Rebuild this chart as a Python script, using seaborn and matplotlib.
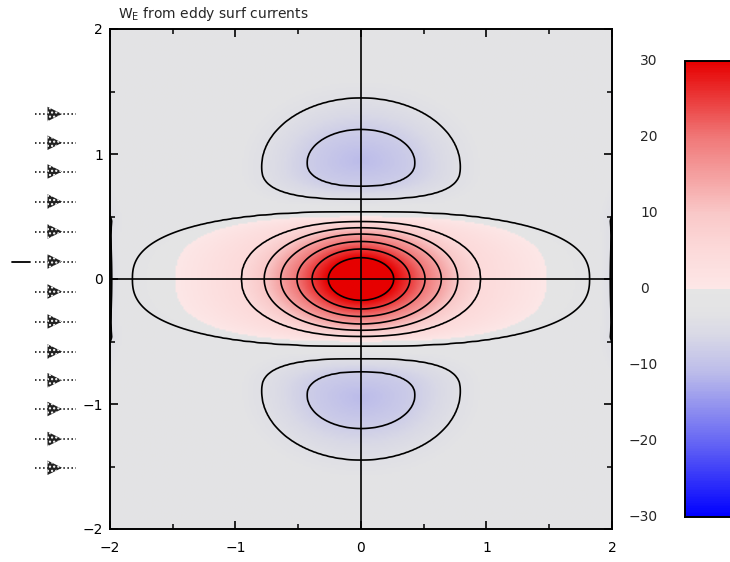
import numpy as np
import matplotlib
matplotlib.use("Agg")
import matplotlib.pyplot as plt
import matplotlib.transforms as mtransforms
from matplotlib.colors import LinearSegmentedColormap
from matplotlib.ticker import MultipleLocator
import seaborn as sns

# ---- values ----
# central positive core: level -> half-widths (x, y) of its closed contour + squareness
core_levels = [-3, -2, 0, 5, 10, 15, 20, 25, 30, 43]
core_half_x = [2.60, 1.80, 1.48, 0.95, 0.77, 0.64, 0.51, 0.39, 0.26, 0.005]
core_half_y = [0.62, 0.535, 0.50, 0.46, 0.41, 0.36, 0.30, 0.24, 0.17, 0.005]
core_power = [2.5, 2.5, 2.8, 2.2, 2.1, 2.0, 2.0, 2.0, 2.0, 2.0]

# negative lobes above and below (depth = -level)
lobe_depth = [3, 4, 8, 11]
lobe_centre = [0.90, 0.90, 0.93, 0.95]
lobe_half_x = [0.95, 0.79, 0.43, 0.005]
lobe_half_in = [0.33, 0.26, 0.19, 0.005]
lobe_half_out = [0.68, 0.547, 0.267, 0.005]
lobe_power_in = [2.8, 2.8, 2.3, 2.0]

# small troughs just outside x = +-2 (the arcs on the side frame)
edge_depth = [3, 4.75, 6]
edge_centre = 2.085
edge_half_x = [0.22, 0.10, 0.005]
edge_half_y = [0.80, 0.475, 0.005]

contour_levels = [-8, -4, -2, 5, 10, 15, 20, 25, 30]
axis_ticks = [-2, -1, 0, 1, 2]
cbar_ticks = [-30, -20, -10, 0, 10, 20, 30]

cmap_values = [-30, -20, -11, -6, -3, 0, 0.001, 5, 10, 20, 30]
cmap_colours = ["#0000ff", "#6868f4", "#bcbcea", "#d9d9e6", "#e3e3e5", "#e5e5e5",
                "#fde7e7", "#fcdada", "#f9c8c8", "#f07878", "#e60000"]

# the odd little arrow glyphs left of the y axis
glyph_y = [1.32, 1.09, 0.86, 0.62, 0.38, 0.14, -0.10, -0.34, -0.58, -0.81, -1.04, -1.28, -1.51]
glyph_x = -2.44
stub_x = [-2.78, -2.64]
stub_y = 0.14

title = r"W$_{\rm E}$ from eddy surf currents"

# ---- build the field from the nested contour shapes ----
xs = np.linspace(-2, 2, 321)
ys = np.linspace(-2, 2, 321)
XX, YY = np.meshgrid(xs, ys)


def nested(levels, shape_of, nsteps=220):
    steps = np.linspace(levels[0], levels[-1], nsteps)
    out = np.full(XX.shape, steps[0], dtype=float)
    f_prev = shape_of(steps[0])
    for lo, hi in zip(steps[:-1], steps[1:]):
        f_next = shape_of(hi)
        m = (f_prev <= 1) & (f_next > 1)
        t = (1 - f_prev[m]) / (f_next[m] - f_prev[m])
        out[m] = lo + t * (hi - lo)
        f_prev = f_next
    out[f_prev <= 1] = steps[-1]
    return out


def core_shape(v):
    hx = np.interp(v, core_levels, core_half_x)
    hy = np.interp(v, core_levels, core_half_y)
    p = np.interp(v, core_levels, core_power)
    return (np.abs(XX) / hx) ** p + (np.abs(YY) / hy) ** p


def lobe_shape(s):
    def f(u):
        yc = np.interp(u, lobe_depth, lobe_centre)
        hx = np.interp(u, lobe_depth, lobe_half_x)
        hi = np.interp(u, lobe_depth, lobe_half_in)
        ho = np.interp(u, lobe_depth, lobe_half_out)
        p = np.interp(u, lobe_depth, lobe_power_in)
        d = s * YY - yc
        inner = (np.abs(XX) / hx) ** p + (np.abs(d) / hi) ** p
        outer = (XX / hx) ** 2 + (d / ho) ** 2
        return np.where(d < 0, inner, outer)
    return f


def edge_shape(s):
    def f(u):
        hx = np.interp(u, edge_depth, edge_half_x)
        hy = np.interp(u, edge_depth, edge_half_y)
        return ((XX - s * edge_centre) / hx) ** 2 + (YY / hy) ** 2
    return f


W = nested(core_levels, core_shape)
for s in (1, -1):
    W += lobe_depth[0] - nested(lobe_depth, lobe_shape(s))
    W += edge_depth[0] - nested(edge_depth, edge_shape(s))

# ---- plot ----
sns.set_theme(style="ticks")
plt.rcParams["font.family"] = ["DejaVu Sans"]
plt.rcParams["font.size"] = 10
plt.rcParams["contour.negative_linestyle"] = "solid"

pos = [(v - cmap_values[0]) / (cmap_values[-1] - cmap_values[0]) for v in cmap_values]
cmap = LinearSegmentedColormap.from_list("we", list(zip(pos, cmap_colours)), N=256)

fig = plt.figure(figsize=(7.3, 5.62), dpi=100)
ax = fig.add_axes([110 / 730, 33 / 562, 502 / 730, 500 / 562])
im = ax.imshow(W, extent=(-2, 2, -2, 2), origin="lower", cmap=cmap, vmin=-30, vmax=30,
               interpolation="bilinear", aspect="auto")
ax.contour(xs, ys, W, levels=contour_levels, colors="black", linewidths=1.2,
           linestyles="solid")
ax.axhline(0, color="black", lw=1.2)
ax.axvline(0, color="black", lw=1.2)

ax.set_xlim(-2, 2)
ax.set_ylim(-2, 2)
ax.set_xticks(axis_ticks)
ax.set_yticks(axis_ticks)
ax.xaxis.set_minor_locator(MultipleLocator(0.5))
ax.yaxis.set_minor_locator(MultipleLocator(0.5))
ax.tick_params(which="both", direction="in", top=True, right=True, colors="black",
               labelcolor="black", labelsize=10)
ax.tick_params(which="major", length=6, width=1.2)
ax.tick_params(which="minor", length=3.6, width=1.1)
ax.tick_params(axis="x", pad=9)
ax.tick_params(axis="y", pad=5)
for sp in ax.spines.values():
    sp.set_linewidth(1.4)
    sp.set_color("black")

# glyphs on the left
ax.hlines(glyph_y, glyph_x - 0.16, glyph_x + 0.17, colors="black", linestyles=":",
          linewidth=1.1, clip_on=False)
ax.scatter(np.full(len(glyph_y), glyph_x), glyph_y, marker=">", s=110, facecolor="#222222",
           edgecolor="white", linewidths=0, hatch="....", clip_on=False, zorder=3)
ax.plot(stub_x, [stub_y, stub_y], color="black", lw=1.3, clip_on=False)

fig.text(118 / 730, 1 - 14 / 562, title, ha="left", va="center", fontsize=10)

# colour bar
cax = fig.add_axes([685 / 730, 45 / 562, 47 / 730, 456 / 562])
cb = fig.colorbar(im, cax=cax, ticks=[-20, -10, 0, 10, 20])
cax.tick_params(direction="in", left=True, right=True, labelleft=False, labelright=False,
                length=6.5, width=1.1, colors="#333333")
cb.outline.set_linewidth(1.4)
cb.outline.set_edgecolor("black")
trans = mtransforms.blended_transform_factory(fig.transFigure, cax.transData)
for v in cbar_ticks:
    if v < 0:
        cax.text(658 / 730, v, "\u2212" + str(-v), transform=trans, ha="right", va="center",
                 fontsize=10, clip_on=False)
    else:
        cax.text(640 / 730, v, str(v), transform=trans, ha="left", va="center",
                 fontsize=10, clip_on=False)

fig.savefig("out.png", dpi=100)
